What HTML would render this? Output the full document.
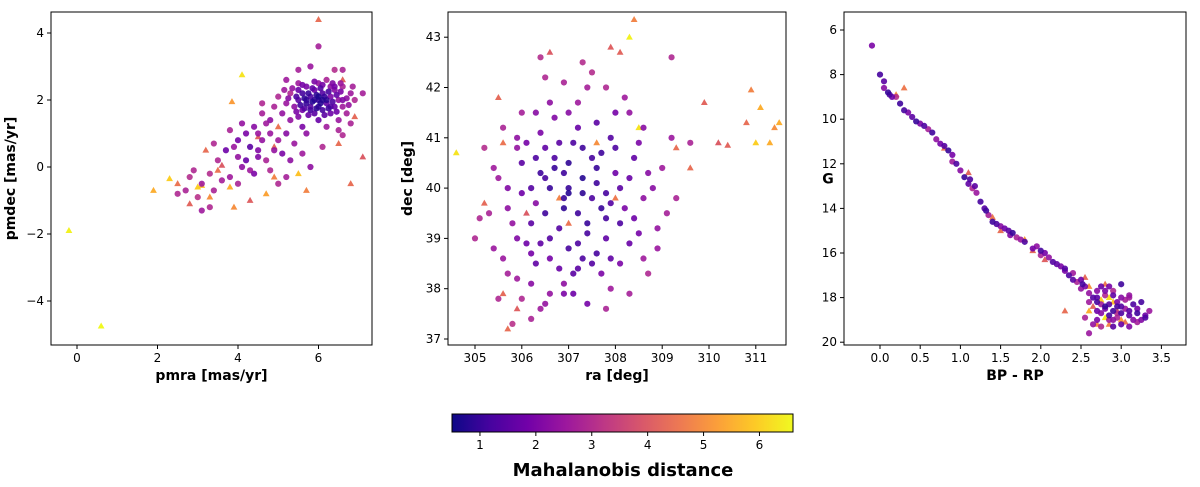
<!DOCTYPE html>
<html><head><meta charset="utf-8"><style>
body{margin:0;background:#fff;font-family:"Liberation Sans","DejaVu Sans",sans-serif}
svg text{font-family:"DejaVu Sans","Liberation Sans",sans-serif}
</style></head><body>
<svg id="c" width="1200" height="482" xmlns="http://www.w3.org/2000/svg"></svg>
<script>
const p1x=[5.5,5.6,5.7,5.8,5.9,6.0,6.1,6.2,6.3,6.4,6.5,5.4,5.6,5.9,6.1,6.3,6.6,5.7,6.0,6.2,5.5,6.6,6.8,5.3,5.2,6.0,5.8,6.4,5.9,6.1,6.3,6.7,5.5,6.0,6.5,5.1,5.0,6.9,7.1,6.6,5.8,6.0,6.4,5.2,6.5,6.6,5.6,5.3,4.8,4.6,4.4,4.2,4.0,4.3,4.6,4.8,5.0,5.2,4.5,4.7,5.1,5.3,4.0,3.7,3.9,4.2,4.4,4.8,5.2,5.6,5.8,6.1,3.5,3.3,3.1,2.8,2.7,3.1,3.3,3.0,2.5,3.6,4.0,4.3,3.8,3.4,4.1,4.6,5.5,
5.45,5.55,5.65,5.75,5.85,5.95,6.05,6.15,6.25,6.35,6.45,6.55,5.65,5.85,6.05,6.25,6.45,5.75,6.15,5.45,6.7,6.75,5.35,5.6,6.35,6.55,5.9,6.1,5.25,6.85,5.7,6.0,6.2,5.8,6.3,5.5,6.6,5.95,6.4,5.15,4.9,4.7,4.5,4.9,5.4,5.7,6.2,6.8,4.1,3.8,3.4,2.9,4.5,5.0,
-0.2,0.6,4.1,2.3,1.9,2.5,2.8,3.3,3.5,3.2,3.9,3.8,3.6,3.85,4.3,4.7,4.9,4.9,5.0,5.5,5.7,6.5,6.9,6.8,7.1,6.6,6.0,4.5,3.1,3.0];
const p1y=[2.0,2.2,1.9,2.1,2.3,2.0,2.2,1.9,2.1,2.3,2.0,1.8,1.7,1.6,1.7,1.6,1.8,2.4,2.5,2.6,2.5,2.4,2.2,2.2,1.9,1.8,1.8,1.8,2.0,2.0,2.4,1.6,1.5,1.4,1.4,1.6,2.1,2.0,2.2,2.9,3.0,3.6,2.9,2.6,1.1,0.95,1.2,1.4,1.4,1.6,1.2,1.0,0.8,0.6,0.8,1.0,0.8,1.0,0.3,0.2,0.4,0.2,0.3,0.5,0.6,0.2,-0.2,-0.1,-0.3,0.4,0.0,0.6,0.2,-0.2,-0.5,-0.3,-0.7,-1.3,-1.2,-0.9,-0.8,-0.4,-0.5,-0.1,1.1,0.7,1.3,1.9,2.9,
2.1,1.85,2.05,2.2,1.95,2.15,1.9,2.1,2.25,1.95,2.15,2.25,1.75,2.35,2.35,1.75,1.65,1.55,1.55,1.65,2.05,1.85,2.35,2.45,2.5,2.5,2.55,2.45,2.05,2.4,2.0,2.1,2.0,1.7,1.8,2.3,2.0,1.75,2.4,2.3,1.8,1.3,1.0,0.5,0.7,1.0,1.2,1.3,0.0,-0.3,-0.7,-0.1,0.5,-0.5,
-1.9,-4.75,2.75,-0.35,-0.7,-0.5,-1.1,-0.9,-0.1,0.5,-1.2,-0.6,0.05,1.95,-1.0,-0.8,-0.3,0.6,1.2,-0.2,-0.7,0.7,1.5,-0.5,0.3,2.6,4.4,0.9,-0.55,-0.6];
const p1d=[1.5,1.2,1.0,1.3,1.8,1.1,1.4,1.6,2.0,2.2,2.4,2.3,1.9,1.5,1.2,1.8,2.6,2.0,2.4,2.8,2.6,2.8,2.6,2.9,2.5,1.0,1.4,1.7,0.9,0.8,2.3,2.7,2.1,1.7,2.5,2.4,2.9,2.9,2.7,2.8,2.5,2.7,3.0,2.6,2.8,2.9,2.0,2.4,2.3,2.7,2.2,2.0,1.9,1.5,2.4,2.5,2.6,2.2,2.1,2.8,2.0,2.3,2.4,1.8,2.5,1.7,2.0,2.9,2.7,2.6,2.3,2.9,2.9,3.0,2.6,3.0,2.8,2.6,2.9,3.1,2.9,2.7,2.8,2.6,2.8,2.9,2.4,2.9,2.7,
1.3,1.1,0.9,1.0,0.8,0.9,0.8,1.0,1.2,1.3,1.6,2.0,1.4,1.6,1.4,1.1,1.8,1.7,1.5,2.0,2.3,2.4,2.4,1.9,2.1,2.5,2.0,1.9,2.2,2.7,1.0,0.7,0.9,1.2,1.4,1.7,2.1,0.9,1.9,2.6,2.8,2.6,2.5,2.4,2.5,2.3,2.6,2.8,2.3,2.6,2.8,2.9,2.1,2.9,
6.5,6.6,6.3,6.0,5.5,4.5,4.2,5.0,4.5,4.4,5.0,5.5,4.0,5.2,4.1,5.3,4.8,4.2,4.5,5.8,4.8,4.4,4.3,4.4,4.0,4.2,4.4,4.2,5.8,6.0];
const p2x=[306.0,306.5,307.0,307.5,308.0,307.2,306.8,307.8,308.2,306.3,305.8,306.1,306.6,307.1,307.6,308.3,308.6,308.4,307.9,307.3,306.8,306.4,305.9,305.5,305.3,305.4,305.7,306.2,306.9,307.4,306.0,305.8,306.4,307.0,307.6,308.1,307.4,306.9,306.2,306.7,307.2,307.8,308.3,307.5,306.9,306.4,309.0,309.2,309.6,309.1,308.9,308.7,307.9,306.6,308.6,305.2,305.0,305.6,306.0,307.7,307.3,306.5,307.9,308.5,306.3,307.2,306.7,308.0,309.2,308.8,305.7,306.9,307.7,308.3,
306.3,306.6,306.9,307.3,307.7,307.5,307.1,306.5,306.2,306.6,307.0,307.5,307.9,308.1,308.3,308.0,307.6,307.2,306.3,306.0,305.9,305.6,306.4,307.1,306.5,306.2,307.8,308.4,308.1,307.3,306.8,305.9,305.5,305.9,306.6,307.4,307.0,308.5,308.7,307.4,306.9,307.0,306.4,306.7,307.6,307.8,307.2,306.2,305.7,305.4,306.1,308.6,308.2,305.1,306.5,307.3,309.3,308.9,307.8,
304.6,308.4,308.3,308.1,306.6,305.7,305.9,305.6,310.9,311.1,310.8,311.5,311.4,311.0,311.3,310.4,310.2,309.9,309.3,307.0,306.1,307.6,308.5,305.5,306.8,305.2,307.9,309.6,305.6,308.0];
const p2y=[40.5,40.2,40.0,39.8,40.3,39.5,39.2,39.0,39.6,39.7,39.3,38.9,38.6,38.3,38.7,38.9,39.8,40.6,41.0,40.8,40.9,41.1,40.8,40.2,39.5,38.8,38.3,38.1,37.9,37.7,37.8,37.3,37.6,40.5,40.4,39.3,39.1,39.8,40.0,41.4,41.7,42.0,41.5,42.3,42.1,42.6,40.4,41.0,40.9,39.5,38.8,38.3,38.0,37.9,41.2,40.8,39.0,41.2,41.5,40.7,40.2,39.5,39.7,39.1,38.5,38.9,40.6,41.5,42.6,40.0,40.0,38.1,38.3,37.9,
40.6,40.0,40.3,39.9,39.6,40.6,40.9,40.8,39.3,39.0,38.8,38.5,38.6,40.0,40.2,40.8,41.3,41.2,41.5,39.9,39.0,38.6,38.9,37.9,37.7,37.4,39.4,39.4,38.5,38.6,38.4,38.2,37.8,41.0,41.7,42.0,41.5,40.9,40.3,39.3,39.6,39.9,40.3,40.4,40.1,39.9,38.4,38.7,39.6,40.4,40.9,38.6,41.8,39.4,42.2,42.5,39.8,39.2,37.6,
40.7,43.35,43.0,42.7,42.7,37.2,37.6,37.9,41.95,41.6,41.3,41.3,41.2,40.9,40.9,40.85,40.9,41.7,40.8,39.3,39.5,40.9,41.2,41.8,39.8,39.7,42.8,40.4,40.9,39.8];
const p2d=[1.5,1.2,1.0,1.3,1.8,1.1,1.4,1.6,2.0,2.2,2.4,1.8,1.9,1.5,1.2,1.7,2.3,1.6,1.4,1.1,1.5,2.0,2.4,2.6,2.8,2.5,2.7,2.2,2.0,1.9,2.9,3.1,2.6,0.9,1.0,1.3,1.2,1.0,1.4,2.1,2.6,2.9,2.4,3.0,2.8,3.0,2.6,2.5,2.8,2.7,2.5,2.9,2.6,2.4,2.2,3.0,2.9,2.8,2.7,1.1,0.8,1.1,1.4,1.9,1.6,1.3,1.3,1.9,2.9,2.2,2.1,2.3,2.0,2.7,
1.3,1.0,1.1,0.9,1.0,1.2,1.3,1.6,1.5,1.4,1.2,1.4,1.6,1.5,1.7,1.3,1.5,1.7,2.2,1.8,2.1,2.5,1.6,1.8,2.4,2.8,1.2,1.8,2.0,1.3,1.7,2.6,2.9,2.3,2.3,2.7,2.2,2.0,2.2,1.0,0.9,0.8,1.1,1.0,1.1,1.2,1.5,1.9,2.3,2.6,1.9,2.6,2.6,2.9,2.9,3.0,2.8,2.4,2.8,
6.3,4.8,6.5,4.2,4.0,4.4,4.1,4.3,4.8,5.5,4.4,5.5,5.0,6.0,5.5,4.2,4.0,4.2,4.4,4.5,4.0,5.0,6.3,4.3,4.8,4.3,4.1,4.4,4.5,4.6];
const p3x=[-0.1,0.0,0.05,0.1,0.15,0.2,0.3,0.4,0.5,0.55,0.65,0.7,0.8,0.9,0.95,1.0,1.05,1.1,1.2,1.25,1.3,1.35,1.4,1.5,1.6,1.7,1.8,1.9,2.0,2.1,2.2,2.3,2.4,2.5,2.55,2.6,2.7,2.75,2.8,2.85,2.9,3.0,3.05,3.1,3.15,3.2,2.9,2.65,2.6,3.3,3.0,2.95,2.8,2.7,2.75,3.1,2.85,0.6,1.15,1.45,2.05,2.35,1.65,0.25,0.85,2.45,1.75,2.15,3.25,3.1,2.95,2.7,
2.7,2.8,2.9,3.0,2.85,2.95,3.05,3.1,2.75,2.65,2.6,2.8,2.9,3.0,3.2,3.3,3.15,2.7,2.9,3.0,2.55,3.1,2.85,2.95,3.25,2.75,2.5,2.4,2.25,1.95,1.55,1.32,1.12,0.75,0.45,0.12,0.05,0.35,0.9,1.18,1.62,2.0,2.3,2.52,3.35,3.2,
0.3,0.2,0.8,1.1,1.4,1.5,1.8,2.05,2.55,2.8,2.6,2.7,2.8,2.9,2.95,3.0,2.75,2.85,2.3,2.65,2.6,2.85,3.05,1.9];
const p3y=[6.7,8.0,8.3,8.8,9.0,9.0,9.6,9.9,10.2,10.3,10.6,10.9,11.2,11.6,12.0,12.3,12.6,12.9,13.3,13.7,14.0,14.3,14.6,14.8,15.0,15.3,15.5,15.8,15.9,16.2,16.5,16.7,16.9,17.2,17.5,17.8,18.0,18.3,18.5,18.8,19.0,18.4,18.1,18.8,19.0,18.5,17.7,19.2,19.6,18.9,17.4,18.9,17.9,18.6,19.3,19.3,17.5,10.45,13.1,14.7,16.0,17.0,15.1,9.3,11.4,17.3,15.4,16.4,18.2,18.0,18.7,17.7,
18.2,18.4,18.6,18.7,18.3,18.2,18.5,18.6,18.7,18.0,18.2,17.7,17.9,18.0,18.7,18.8,18.3,19.0,19.3,19.2,18.9,17.9,19.0,18.4,19.0,17.5,17.6,17.2,16.6,15.7,14.9,14.1,12.7,11.1,10.1,8.9,8.6,9.7,11.9,13.0,15.2,16.1,16.8,17.4,18.6,19.1,
8.6,8.9,11.3,12.4,14.4,15.0,15.4,16.3,17.1,17.4,18.6,19.2,18.9,18.2,18.6,19.0,18.1,19.2,18.6,18.4,17.5,18.0,19.1,15.9];
const p3d=[2.0,1.2,1.5,1.0,1.8,3.0,1.2,1.5,2.0,1.3,1.1,2.3,1.4,1.9,1.3,2.2,1.0,1.6,2.5,1.2,1.4,2.7,1.1,2.2,1.5,2.8,1.3,1.9,1.2,2.4,1.6,1.4,2.6,1.8,2.0,2.4,1.5,2.6,2.0,1.2,2.3,1.4,2.7,1.6,2.2,1.9,2.9,2.4,2.5,1.3,1.1,2.8,2.9,1.8,2.9,2.1,1.9,2.7,2.9,1.3,1.9,1.3,1.0,1.1,1.0,2.8,2.5,1.4,1.2,2.6,3.0,2.2,
1.2,1.0,1.1,1.3,1.5,2.0,2.5,1.5,2.2,1.4,2.6,2.0,1.6,2.2,1.1,1.8,1.3,2.0,1.5,1.7,2.8,2.4,2.6,1.2,2.1,1.7,2.4,1.5,2.0,2.3,1.8,1.1,1.3,1.9,1.0,1.3,2.2,2.0,2.6,1.5,2.1,2.8,2.0,1.2,2.5,2.7,
4.6,5.0,4.5,4.2,4.6,4.4,5.2,4.1,4.3,4.6,5.5,4.9,6.4,5.8,4.4,5.2,6.0,4.8,4.4,4.2,5.0,6.3,4.5,4.3];
const p1xt=[0,2,4,6], p1yt=[4,2,0,-2,-4];
const p2xt=[305,306,307,308,309,310,311], p2yt=[43,42,41,40,39,38,37];
const p3xt=[0.0,0.5,1.0,1.5,2.0,2.5,3.0,3.5], p3yt=[6,8,10,12,14,16,18,20];
const cbt=[1,2,3,4,5,6];
const dmin=0.5,dmax=6.6;
const NS="http://www.w3.org/2000/svg",svg=document.getElementById('c');
const stops=["#0d0887","#46039f","#7201a8","#9c179e","#bd3786","#d8576b","#ed7953","#fb9f3a","#fdca26","#f0f921"];
function hex(h){return [1,3,5].map(i=>parseInt(h.substr(i,2),16));}
function cmap(d){let t=Math.max(0,Math.min(1,(d-dmin)/(dmax-dmin)))*(stops.length-1);let i=Math.min(stops.length-2,Math.floor(t)),f=t-i;const a=hex(stops[i]),b=hex(stops[i+1]);return 'rgb('+a.map((v,k)=>Math.round(v+(b[k]-v)*f)).join(',')+')';}
function el(t,a,p){const e=document.createElementNS(NS,t);for(const k in a)e.setAttribute(k,a[k]);(p||svg).appendChild(e);return e;}
function panel(name,L,T,R,B,xs,ys,ds,xt,yt,xfn,yfn,xlab,ylab,ylabH,fmt){
  const g=el('g',{});
  
  
  const idx=ds.map((d,i)=>i).sort((a,b)=>ds[b]-ds[a]);
  idx.forEach(i=>{const x=xfn(xs[i]),y=yfn(ys[i]),c=cmap(ds[i]);let m;
    if(ds[i]>3.5){m=el('polygon',{points:`${x},${y-3.6} ${x-3.4},${y+2.4} ${x+3.4},${y+2.4}`,fill:c},g);}
    else{m=el('circle',{cx:x,cy:y,r:3.1,fill:c,'fill-opacity':0.9},g);}
    
    });
  const fr=el('rect',{x:L,y:T,width:R-L,height:B-T,fill:'none',stroke:'#000','stroke-width':1},g);
  
  
  xt.forEach(v=>{const x=xfn(v);el('line',{x1:x,x2:x,y1:B,y2:B+4,stroke:'#000'},g);const t=el('text',{x:x,y:B+17,'font-size':12,'text-anchor':'middle'},g);t.textContent=fmt?v.toFixed(1):v;
    
    });
  yt.forEach(v=>{const y=yfn(v);el('line',{x1:L-4,x2:L,y1:y,y2:y,stroke:'#000'},g);const t=el('text',{x:L-7,y:y+4,'font-size':12,'text-anchor':'end'},g);t.textContent=v<0?'\u2212'+(-v):v;
    
    });
  const xl=el('text',{x:(L+R)/2,y:B+35,'font-size':14,'font-weight':'bold','text-anchor':'middle'},g);xl.textContent=xlab;
  
  
  let yl;
  if(ylabH){yl=el('text',{x:ylabH,y:(T+B)/2+5,'font-size':14,'font-weight':'bold','text-anchor':'middle'},g);}
  else{const cx=L-36,cy=(T+B)/2;yl=el('text',{x:cx,y:cy,'font-size':14,'font-weight':'bold','text-anchor':'middle',transform:`rotate(-90 ${cx} ${cy})`},g);}
  yl.textContent=ylab;
  
  
}
panel('pm-panel',51,12,372,345,p1x,p1y,p1d,p1xt,p1yt,v=>77+v*40.25,v=>167-v*33.5,'pmra [mas/yr]','pmdec [mas/yr]');
panel('radec-panel',448,12,786,345,p2x,p2y,p2d,p2xt,p2yt,v=>475+(v-305)*46.8,v=>339-(v-37)*50.3,'ra [deg]','dec [deg]');
panel('cmd-panel',844,12,1186,345,p3x,p3y,p3d,p3xt,p3yt,v=>880+v*80.4,v=>30+(v-6)*22.3,'BP - RP','G',828,true);
const cb=el('g',{});


const defs=el('defs',{},cb),lg=el('linearGradient',{id:'gr',x1:0,x2:1,y1:0,y2:0},defs);
stops.forEach((s,i)=>el('stop',{offset:i/(stops.length-1),'stop-color':s},lg));
const CL=452,CR=793,cbx=v=>CL+(v-dmin)/(dmax-dmin)*(CR-CL);
el('rect',{x:CL,y:414,width:CR-CL,height:18,fill:'url(#gr)',stroke:'#000'},cb);
cbt.forEach(v=>{const x=cbx(v);el('line',{x1:x,x2:x,y1:432,y2:436,stroke:'#000'},cb);const t=el('text',{x:x,y:449,'font-size':12,'text-anchor':'middle'},cb);t.textContent=v;
  
  });
const ct=el('text',{x:623,y:476,'font-size':18,'font-weight':'bold','text-anchor':'middle'},cb);ct.textContent='Mahalanobis distance';


</script>
</body></html>
